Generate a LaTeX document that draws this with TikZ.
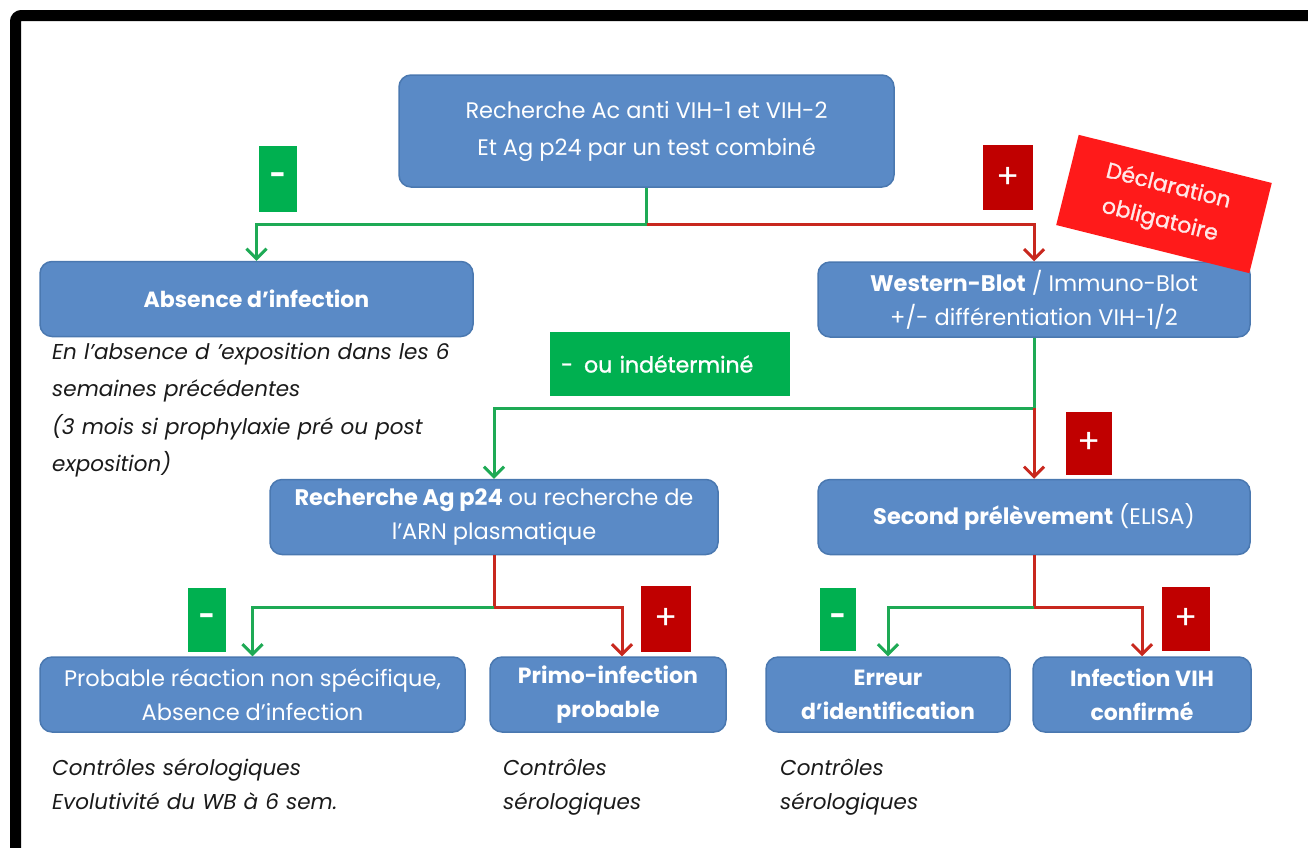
\documentclass[tikz,border=0pt]{standalone}
\usepackage{fontspec}
\setmainfont{Poppins}
\newfontfamily\medfont[FakeBold=1.2]{Poppins}
\usetikzlibrary{arrows.meta,calc}
\definecolor{boxblue}{HTML}{5A8AC6}
\definecolor{boxedge}{HTML}{4A78B0}
\definecolor{lgreen}{HTML}{00B050}
\definecolor{ldred}{HTML}{C00000}
\definecolor{lred}{HTML}{FF1A1A}
\definecolor{gline}{HTML}{1EAA55}
\definecolor{rline}{HTML}{C8281E}
\definecolor{ntext}{HTML}{1A1A1A}
\definecolor{decltext}{HTML}{FFE8E8}
\begin{document}
\begin{tikzpicture}[x=1pt,y=-1pt,
 bbox/.style={draw=boxedge, line width=1.5pt, fill=boxblue, rounded corners=12pt, text=white, align=center, font=\fontsize{22.5}{34}\selectfont, inner sep=0pt, minimum height=75pt},
 bboxb/.style={bbox, font=\fontsize{22}{34}\selectfont\bfseries},
 tag/.style={text=white, font=\fontsize{34}{34}\selectfont, inner sep=0pt},
 gtag/.style={tag, fill=lgreen, font=\fontsize{28}{28}\selectfont\bfseries},
 rtag/.style={tag, fill=ldred},
 note/.style={text=ntext, align=left, anchor=base west, text width=440pt, font=\fontsize{21.5}{34}\selectfont\itshape, inner sep=0pt},
 gl/.style={draw=gline, line width=3pt},
 rl/.style={draw=rline, line width=3pt},
 arr/.style={-{Straight Barb[length=10pt,width=20pt,line width=3pt]}},
]
\useasboundingbox (0,0) rectangle (1308,847);
\begin{scope}
\clip (0,0) rectangle (1308,847);
\draw[line width=11pt, rounded corners=6pt] (15.5,15.5) rectangle (1340,880);
\end{scope}

% boxes
\node[bbox, minimum width=495pt, minimum height=112pt, font=\fontsize{22.5}{37}\selectfont] (top) at (646.5,131) {Recherche Ac anti VIH-1 et VIH-2\\Et Ag p24 par un test combiné};
\node[bboxb, minimum width=433pt] (absence) at (256.5,299) {Absence d’infection};
\node[bbox, minimum width=432pt] (wb) at (1034,299.5) {\textbf{Western-Blot} / Immuno-Blot\\+/- différentiation VIH-1/2};
\node[bbox, minimum width=448pt] (ragp) at (494,517) {\textbf{Recherche Ag p24} ou recherche de\\l’ARN plasmatique};
\node[bbox, minimum width=432pt] (second) at (1034,517) {\textbf{Second prélèvement} (ELISA)};
\node[bbox, minimum width=425pt] (probable) at (252.5,694.5) {Probable réaction non spécifique,\\Absence d’infection};
\node[bboxb, minimum width=236pt] (primo) at (608,694.5) {Primo-infection\\probable};
\node[bboxb, minimum width=244pt] (erreur) at (888,694.5) {Erreur\\d’identification};
\node[bboxb, minimum width=218pt] (infection) at (1142,694.5) {Infection VIH\\confirmé};

% tags
\node[gtag, minimum width=38pt, minimum height=66pt] (g1) at (278,179) {-};
\node[rtag, minimum width=50pt, minimum height=65pt] (r1) at (1008,177.5) {+};
\node[fill=lred, rotate=-14, minimum width=199pt, minimum height=93pt, inner sep=0pt, text=decltext, align=center, font=\fontsize{22}{35}\selectfont\medfont] (decl) at (1164,204) {Déclaration\\obligatoire};
\node[gtag, minimum width=240pt, minimum height=64pt, text width=218pt, align=left, font=\fontsize{22}{24}\selectfont\medfont] (gm) at (670,364) {-\, ou indéterminé};
\node[rtag, minimum width=46pt, minimum height=63pt] (r2) at (1089,443) {+};
\node[gtag, minimum width=38pt, minimum height=64pt] (g3) at (207,620) {-};
\node[rtag, minimum width=50pt, minimum height=66pt] (r3) at (666,619) {+};
\node[gtag, minimum width=36pt, minimum height=63pt] (g4) at (838,619.5) {-};
\node[rtag, minimum width=48pt, minimum height=64pt] (r4) at (1186,619) {+};

% notes
\node[note, font=\fontsize{21.5}{37.5}\selectfont\itshape] (n1) at (52,359) {En l’absence d ’exposition dans les 6\\semaines précédentes\\(3 mois si prophylaxie pré ou post\\exposition)};
\node[note] (n2) at (52,775) {Contrôles sérologiques\\Evolutivité du WB à 6 sem.};
\node[note, text width=200pt] (n3) at (503,775) {Contrôles\\sérologiques};
\node[note, text width=200pt] (n4) at (780,775) {Contrôles\\sérologiques};

% connectors
\coordinate (j1) at (646.5,224);
\draw[gl] (top.south) -- (j1);
\draw[gl,arr] (j1) -| (absence.north);
\draw[rl,arr] (j1) -| (wb.north);

\coordinate (j2) at (1034,408);
\draw[gl] (wb.south) -- (j2);
\draw[gl,arr] (j2) -| (ragp.north);
\draw[rl,arr] (j2) -- (second.north);

\coordinate (j3) at (494,607);
\draw[rl] (ragp.south) -- (j3);
\draw[gl,arr] (j3) -| (probable.north);
\draw[rl,arr] (j3) -| ([xshift=14pt]primo.north);

\coordinate (j4) at (1034,607);
\draw[rl] (second.south) -- (j4);
\draw[gl,arr] (j4) -| (erreur.north);
\draw[rl,arr] (j4) -| (infection.north);
\end{tikzpicture}
\end{document}
